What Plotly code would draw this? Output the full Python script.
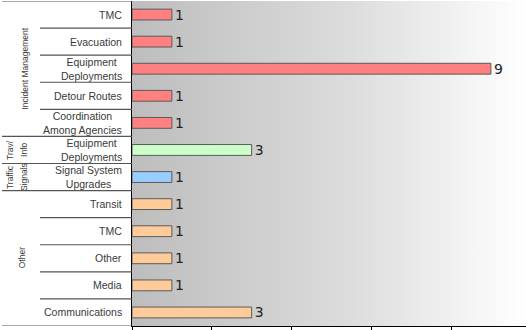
import base64
import plotly.graph_objects as go

# ---- data ----
groups = ["Incident Management"] * 5 + ["Trav Info"] + ["Traffic Signals"] + ["Other"] * 5
labels = ["TMC", "Evacuation", "Equipment<br>Deployments", "Detour Routes",
          "Coordination<br>Among Agencies", "Equipment<br>Deployments",
          "Signal System<br>Upgrades", "Transit", "TMC", "Other", "Media", "Communications"]
values = [1, 1, 9, 1, 1, 3, 1, 1, 1, 1, 1, 3]
group_colors = {"Incident Management": "#FF8080", "Trav Info": "#CCFFCC",
                "Traffic Signals": "#99CCFF", "Other": "#FFCC99"}
group_label_lines = {"Incident Management": ["Incident Management"],
                     "Trav Info": ["Trav/", "Info"],
                     "Traffic Signals": ["Traffic", "Signals"],
                     "Other": ["Other"]}
x_ticks = [0, 2, 4, 6, 8]

# ---- layout geometry ----
W, H = 526, 330
L, R, T, B = 132, 0, 1, 4
PW = W - L - R
def px(p):
    return (p - L) / PW

keys = [f"{g}|{i}" for i, g in enumerate(groups)]
colors = [group_colors[g] for g in groups]

fig = go.Figure(go.Bar(
    y=keys, x=values, orientation="h", width=0.4,
    marker=dict(color=colors, line=dict(color="#5a5a5a", width=1)),
    text=[str(v) for v in values], textposition="outside", constraintext="none",
    textfont=dict(family="DejaVu Sans", size=14, color="#222222"),
    cliponaxis=False, hoverinfo="skip",
))

# gradient background
svg = ('<svg xmlns="http://www.w3.org/2000/svg" width="400" height="100" preserveAspectRatio="none">'
       '<defs><linearGradient id="g" x1="0" y1="0" x2="1" y2="0">'
       '<stop offset="0" stop-color="#bdbdbd"/><stop offset="0.55" stop-color="#dcdcdc"/>'
       '<stop offset="1" stop-color="#ffffff"/></linearGradient></defs>'
       '<rect width="400" height="100" fill="url(#g)"/></svg>')
uri = "data:image/svg+xml;base64," + base64.b64encode(svg.encode()).decode()
fig.add_layout_image(dict(source=uri, xref="paper", yref="paper", x=0, y=1,
                          sizex=1, sizey=1, sizing="stretch", layer="below"))

annotations = []
shapes = []
n = len(keys)
# category labels
for i, lab in enumerate(labels):
    annotations.append(dict(x=px(124), xref="paper", y=keys[i], yref="y", text=lab,
                            showarrow=False, xanchor="right", align="center",
                            font=dict(family="Liberation Sans, Arial", size=10.5, color="#3a3a3a")))
# separators
for i in range(n + 1):
    y = i - 0.5
    if i == 0 or i == n or groups[i] != groups[i - 1]:
        x0 = px(2)
    else:
        x0 = px(40)
    shapes.append(dict(type="line", xref="paper", yref="y", x0=x0, x1=0, y0=y, y1=y,
                       line=dict(color="#555555", width=1.2)))
# group labels
seen = []
for g in groups:
    if g not in seen:
        seen.append(g)
for g in seen:
    idx = [i for i, gg in enumerate(groups) if gg == g]
    center = (idx[0] + idx[-1]) / 2
    lines = group_label_lines[g]
    if len(lines) == 1:
        xs = [25 if g != "Other" else 22]
    else:
        xs = [10, 24]
    for xp, t in zip(xs, lines):
        annotations.append(dict(x=px(xp), xref="paper", y=center, yref="y", text=t,
                                showarrow=False, textangle=-90, xanchor="center",
                                font=dict(family="Liberation Sans, Arial", size=8.5, color="#3a3a3a")))

fig.update_layout(
    width=W, height=H, margin=dict(l=L, r=R, t=T, b=B),
    paper_bgcolor="white", plot_bgcolor="rgba(0,0,0,0)",
    showlegend=False, annotations=annotations, shapes=shapes,
    xaxis=dict(range=[0, 9.88], tickvals=x_ticks, showticklabels=False, ticks="outside",
               ticklen=5, tickcolor="black", showline=True, linecolor="black",
               showgrid=False, zeroline=False),
    yaxis=dict(categoryorder="array", categoryarray=keys, range=[n - 0.5, -0.5],
               showticklabels=False, showline=True, linecolor="black", showgrid=False,
               ticks=""),
)
fig.write_html("out.html")
